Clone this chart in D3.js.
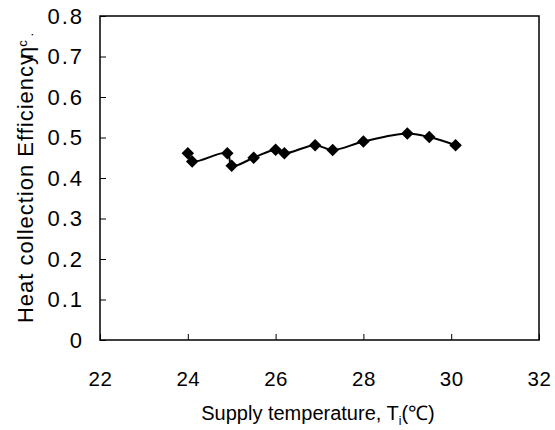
<!DOCTYPE html>
<html>
<head>
<meta charset="utf-8">
<script src="https://cdn.jsdelivr.net/npm/d3@7"></script>
<style>
  body { margin: 0; background: #fff; }
  text { font-family: "Liberation Sans", Arial, sans-serif; fill: #000; }
</style>
</head>
<body>
<svg id="chart" width="555" height="430"></svg>
<script>
const supplyTemp = [24.0, 24.1, 24.9, 25.0, 25.5, 26.0, 26.2, 26.9, 27.3, 28.0, 29.0, 29.5, 30.1];
const efficiency = [0.461, 0.441, 0.461, 0.430, 0.450, 0.470, 0.461, 0.481, 0.469, 0.490, 0.510, 0.501, 0.481];
const xTicks = [22, 24, 26, 28, 30, 32];
const yTicks = [0, 0.1, 0.2, 0.3, 0.4, 0.5, 0.6, 0.7, 0.8];

const svg = d3.select("#chart");
const m = { left: 100, right: 16, top: 16, bottom: 90 };
const W = 555, H = 430;
const x = d3.scaleLinear().domain([22, 32]).range([m.left, W - m.right]);
const y = d3.scaleLinear().domain([0, 0.8]).range([H - m.bottom, m.top]);

// frame
svg.append("rect")
  .attr("x", x(22)).attr("y", y(0.8))
  .attr("width", x(32) - x(22)).attr("height", y(0) - y(0.8))
  .attr("fill", "none").attr("stroke", "#000").attr("stroke-width", 1.5);

// axes
const xAxis = d3.axisBottom(x).tickValues(xTicks).tickSizeInner(-6).tickSizeOuter(0).tickPadding(46).tickFormat(d3.format("d"));
const gx = svg.append("g").attr("transform", `translate(0,${y(0)})`).call(xAxis);
gx.select(".domain").remove();
gx.selectAll(".tick line").attr("stroke", "#000").attr("stroke-width", 1);
gx.selectAll(".tick text").attr("font-size", 20.5).attr("letter-spacing", 0.5)
  .attr("font-family", "Liberation Sans, Arial, sans-serif").attr("dy", "0");

const yAxis = d3.axisLeft(y).tickValues(yTicks).tickSizeInner(-6).tickSizeOuter(0).tickPadding(16).tickFormat(d => d === 0 ? "0" : d3.format(".1f")(d));
const gy = svg.append("g").attr("transform", `translate(${x(22)},0)`).call(yAxis);
gy.select(".domain").remove();
gy.selectAll(".tick line").attr("stroke", "#000").attr("stroke-width", 1);
gy.selectAll(".tick text").attr("font-size", 22).attr("letter-spacing", 2)
  .attr("font-family", "Liberation Sans, Arial, sans-serif");

// line
const pts = supplyTemp.map((t, i) => [t, efficiency[i]]);
const line = d3.line().x(d => x(d[0])).y(d => y(d[1])).curve(d3.curveCatmullRom.alpha(0.5));
svg.append("path").datum(pts).attr("d", line)
  .attr("fill", "none").attr("stroke", "#000").attr("stroke-width", 2);

// markers
const diamond = d3.symbol().type(d3.symbolDiamond2).size(100);
svg.selectAll(".pt").data(pts).join("path")
  .attr("class", "pt")
  .attr("transform", d => `translate(${x(d[0])},${y(d[1])})`)
  .attr("d", diamond).attr("fill", "#000");

// x title
const xt = svg.append("text")
  .attr("x", 318).attr("y", 420)
  .attr("text-anchor", "middle").attr("font-size", 20);
xt.append("tspan").text("Supply temperature, T");
xt.append("tspan").text("i").attr("font-size", 12).attr("dy", 5);
xt.append("tspan").text("(℃)").attr("dy", -5);

// y title
const yt = svg.append("text")
  .attr("transform", `translate(33,178) rotate(-90)`)
  .attr("text-anchor", "middle").attr("font-size", 22);
yt.append("tspan").text("Heat collection Efficiency").attr("letter-spacing", 1);
yt.append("tspan").text("η").attr("dx", -6);
yt.append("tspan").text("c").attr("font-size", 13).attr("dy", -6);
yt.append("tspan").text(" .").attr("font-size", 13).attr("dy", 6);
</script>
</body>
</html>
